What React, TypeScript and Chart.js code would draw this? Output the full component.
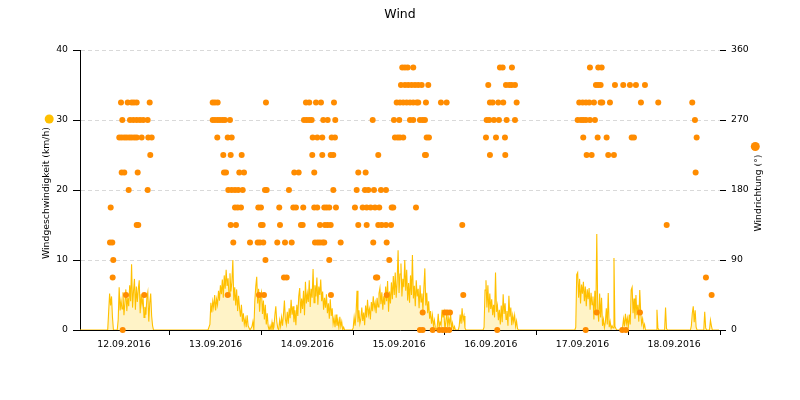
import React, { useEffect, useRef } from "react";
import { Chart, registerables } from "chart.js";

Chart.register(...registerables);

// ---------- text ----------
const chartTitle = "Wind";
const speedAxisTitle = "Windgeschwindigkeit (km/h)";
const directionAxisTitle = "Windrichtung (°)";
const dayLabels = ["12.09.2016", "13.09.2016", "14.09.2016", "15.09.2016", "16.09.2016", "17.09.2016", "18.09.2016"];

// ---------- wind speed (km/h), one value every 15 minutes, one array per day ----------
const speed12 = [
  0, 0, 0, 0, 0, 0, 0, 0, 0, 0, 0, 0,
  0, 0, 0, 0, 0, 0, 0, 0, 0, 0, 0, 0,
  0, 0, 0, 0, 0, 0, 0, 0, 2.6, 5.2, 3.5, 4.8,
  1.8, 0, 0, 0, 0, 0, 1.5, 6.1, 2.8, 4.2, 3.0, 5.4,
  2.1, 3.9, 5.8, 2.7, 4.6, 3.4, 6.4, 4.1, 9.4, 3.2, 5.5, 7.3,
  2.9, 6.2, 4.0, 5.8, 7.1, 2.4, 5.1, 3.6, 4.7, 1.8, 3.3, 2.2,
  4.6, 5.4, 1.2, 3.8, 5.2, 2.0, 0.6, 0, 0, 0, 0, 0,
  0, 0, 0, 0, 0, 0, 0, 0, 0, 0, 0, 0,
];
const speed13 = [
  0, 0, 0, 0, 0, 0, 0, 0, 0, 0, 0, 0,
  0, 0, 0, 0, 0, 0, 0, 0, 0, 0, 0, 0,
  0, 0, 0, 0, 0, 0, 0, 0, 0, 0, 0, 0,
  0, 0, 0, 0, 0, 0, 0.8, 3.9, 2.5, 4.1, 3.2, 5.0,
  2.8, 4.4, 3.6, 5.6, 4.2, 6.4, 5.1, 7.2, 4.6, 7.8, 5.9, 8.6,
  6.3, 7.4, 4.8, 8.1, 5.5, 6.8, 10.0, 4.2, 6.1, 3.5, 5.8, 2.7,
  4.9, 3.1, 1.9, 3.6, 1.2, 2.4, 0.8, 1.6, 0.4, 2.1, 0.6, 0.3,
  0, 0, 0.5, 1.2, 0, 4.1, 6.2, 7.6, 3.8, 5.9, 2.6, 4.8,
];
const speed14 = [
  5.4, 2.3, 4.2, 1.5, 3.6, 0.8, 2.4, 0.5, 0, 0.6, 0, 1.1,
  0, 0.4, 2.1, 3.4, 1.2, 0.3, 0, 1.4, 0.5, 1.8, 0.6, 2.2,
  4.2, 1.5, 0.8, 2.6, 0.9, 3.1, 1.7, 4.3, 2.2, 3.4, 1.1, 2.8,
  0.7, 3.6, 2.0, 4.8, 6.0, 2.4, 4.5, 3.0, 5.6, 2.1, 6.9, 3.8,
  5.2, 4.0, 7.1, 3.3, 5.9, 4.6, 8.7, 3.9, 6.4, 4.8, 7.5, 3.6,
  6.2, 5.0, 7.2, 4.1, 5.5, 2.9, 4.6, 3.2, 5.1, 2.4, 3.8, 1.6,
  4.4, 2.0, 3.1, 0.9, 1.7, 0.4, 2.2, 0.6, 1.4, 0.3, 1.9, 0.5,
  1.2, 0, 0.4, 0, 0, 0, 0, 0, 0, 0, 0, 0,
];
const speed15 = [
  0.3, 1.8, 0.6, 2.4, 5.6, 1.1, 2.8, 0.9, 1.6, 3.2, 1.3, 2.5,
  0.7, 3.5, 1.8, 4.3, 2.2, 3.0, 1.5, 4.0, 2.7, 4.8, 3.1, 3.9,
  2.4, 4.6, 3.3, 5.2, 6.0, 3.7, 5.4, 2.9, 4.8, 3.6, 6.2, 4.1,
  7.0, 2.6, 5.5, 3.8, 6.8, 4.4, 7.7, 5.0, 8.2, 4.6, 6.9, 11.4,
  5.3, 8.0, 9.5, 4.8, 7.3, 6.1, 10.0, 5.6, 8.6, 4.2, 6.7, 3.9,
  7.8, 5.0, 10.7, 4.5, 6.3, 3.4, 7.1, 4.8, 5.9, 3.1, 6.4, 4.0,
  5.2, 2.8, 6.0, 8.8, 3.5, 5.3, 2.4, 4.1, 1.6, 2.7, 0.9, 2.1,
  0.6, 1.4, 0.3, 0, 0.5, 2.3, 0.4, 1.1, 0.7, 2.9, 1.8, 2.5,
];
const speed16 = [
  0, 1.2, 2.6, 0.4, 1.7, 0.8, 2.2, 0.3, 1.0, 0, 0.5, 0,
  0, 0, 0, 0.6, 2.2, 0.9, 3.1, 1.4, 2.0, 0.3, 0, 0,
  0, 0, 0, 0, 0, 0, 0, 0, 0, 0, 0, 0,
  0, 0, 0, 0, 0, 0.4, 5.7, 7.1, 3.2, 6.4, 2.5, 5.2,
  3.0, 4.4, 2.1, 3.6, 1.8, 8.2, 2.6, 3.5, 1.4, 2.9, 0.8, 3.5,
  1.1, 5.1, 2.3, 3.8, 1.5, 2.7, 0.6, 4.9, 1.9, 3.2, 0.7, 2.1,
  1.2, 2.1, 0.5, 1.3, 0.2, 0, 0, 0, 0, 0, 0, 0,
  0, 0, 0, 0, 0, 0, 0, 0, 0, 0, 0, 0,
];
const speed17 = [
  0, 0, 0, 0, 0, 0, 0, 0, 0, 0, 0, 0,
  0, 0, 0, 0, 0, 0, 0, 0, 0, 0, 0, 0,
  0, 0, 0, 0, 0, 0, 0, 0, 0, 0, 0, 0,
  0, 0, 0, 0, 0, 0.4, 7.9, 8.2, 4.6, 7.3, 3.8, 6.5,
  5.2, 6.9, 4.1, 6.2, 3.4, 5.8, 4.4, 6.0, 2.9, 5.3, 3.6, 4.8,
  1.5, 5.6, 2.2, 13.7, 3.0, 1.2, 5.2, 1.8, 4.6, 0.6, 1.5, 0.3,
  1.1, 3.1, 0.8, 5.3, 0.4, 1.2, 0.2, 0.6, 0.3, 10.3, 0.5, 0.2,
  0, 0, 0, 0, 0, 0, 0.4, 1.6, 0.5, 2.3, 0.9, 1.7,
];
const speed18 = [
  0.3, 2.2, 0.8, 5.7, 6.1, 2.4, 4.5, 1.6, 5.0, 2.1, 3.6, 1.2,
  5.7, 2.5, 0.9, 1.6, 0.3, 0.8, 0, 0, 0, 0, 0, 0,
  0, 0, 0, 0, 0, 0, 2.9, 0.3, 0, 0, 0, 0,
  0, 0, 0, 3.2, 0.2, 0, 0, 0, 0, 0, 0, 0,
  0, 0, 0, 0, 0, 0, 0, 0, 0, 0, 0, 0,
  0, 0, 0, 0, 0, 0, 0.6, 2.4, 3.4, 1.1, 2.8, 0.4,
  0, 0, 0, 0, 0, 0, 0, 0, 2.6, 0.3, 0, 0,
  0, 0, 1.4, 0.6, 0, 0, 0, 0, 0, 0, 0, 0,
];
const speedDays = [speed12, speed13, speed14, speed15, speed16, speed17, speed18];
const speedStepHours = 0.25;

// ---------- wind direction (°): for each direction, the hours (since 12.09.2016 00:00) it was measured ----------
const dirLevels = [0, 22.5, 45, 67.5, 90, 112.5, 135, 157.5, 180, 202.5, 225, 247.5, 270, 292.5, 315, 337.5];
const dirTimes = [
  [11.67, 89.47, 90.18, 92.8, 94.53, 95.42, 96.28, 97.14, 109.7, 132.84, 142.42, 143.39],
  [90.18, 96.02, 96.62, 97.33, 135.72, 147.05],
  [12.54, 17.32, 39.15, 47.34, 48.65, 66.18, 80.76, 100.81, 165.81],
  [9.05, 53.88, 54.59, 77.96, 78.3, 164.32],
  [9.21, 49.04, 65.74, 81.44],
  [8.35, 8.95, 40.62, 44.99, 47.0, 47.6, 48.47, 52.13, 54.15, 55.9, 62.0, 62.7, 63.31, 64.01, 64.43, 68.72, 77.25, 80.76],
  [15.34, 15.75, 39.94, 41.32, 47.86, 48.31, 52.84, 58.33, 58.78, 63.31, 64.61, 65.32, 66.11, 73.33, 75.53, 78.56, 79.45, 80.58, 81.89, 100.55, 154.04],
  [8.53, 41.06, 41.77, 42.63, 47.16, 47.86, 52.65, 56.32, 57.02, 58.93, 61.81, 62.6, 64.43, 65.06, 65.74, 67.49, 72.46, 74.48, 75.53, 76.57, 77.7, 78.82, 82.07, 82.49, 88.43],
  [13.24, 18.21, 39.31, 40.2, 41.06, 41.92, 43.08, 48.91, 49.36, 55.19, 66.79, 72.91, 75.08, 75.95, 77.44, 79.27, 80.58],
  [11.41, 12.09, 15.6, 38.18, 38.71, 42.19, 43.42, 56.58, 57.73, 61.81, 73.33, 75.26, 161.62],
  [18.89, 38.0, 39.94, 42.81, 61.29, 63.91, 66.11, 66.79, 78.56, 90.78, 91.04, 107.79, 111.8, 133.1, 134.41, 138.75, 140.24],
  [10.78, 11.41, 12.09, 12.72, 13.4, 14.03, 14.71, 15.34, 16.64, 18.37, 19.26, 36.43, 39.15, 40.2, 61.4, 62.6, 63.91, 66.37, 67.23, 82.93, 83.64, 84.24, 85.1, 91.23, 91.83, 106.75, 109.37, 111.72, 132.21, 135.98, 138.33, 144.88, 145.48, 161.89],
  [11.57, 13.58, 14.45, 15.34, 16.2, 17.06, 18.21, 35.23, 35.83, 36.53, 37.14, 37.84, 38.44, 39.75, 59.12, 59.82, 60.5, 61.13, 64.17, 65.32, 67.31, 77.1, 82.67, 84.06, 86.86, 87.72, 89.47, 90.18, 90.78, 106.93, 107.61, 108.84, 110.15, 112.16, 114.34, 130.75, 131.61, 132.21, 132.92, 133.96, 135.27, 161.44],
  [11.23, 12.98, 14.03, 14.63, 15.34, 18.74, 35.23, 35.83, 36.53, 49.17, 59.64, 60.5, 62.26, 63.57, 66.97, 83.38, 84.24, 85.1, 85.99, 86.86, 87.72, 88.61, 89.03, 91.04, 94.97, 96.46, 107.79, 108.5, 109.97, 111.27, 114.78, 131.16, 132.05, 132.92, 133.78, 135.01, 136.76, 137.18, 139.2, 147.31, 151.84, 160.74],
  [84.5, 85.55, 86.41, 87.3, 88.17, 89.03, 89.92, 91.65, 107.35, 111.98, 112.84, 113.47, 114.34, 135.53, 136.14, 136.76, 140.51, 142.68, 144.43, 146.0, 148.36],
  [84.84, 85.55, 86.26, 87.72, 110.41, 111.12, 113.55, 133.96, 136.14, 137.03],
];

// ---------- axes ----------
const xMinHours = 0.5;
const xMaxHours = 168;
const speedMax = 40;
const speedStep = 10;
const dirMax = 360;
const dirStep = 90;

const FONT = '"DejaVu Sans", Verdana, sans-serif';
const speedColor = "#FFC000";
const speedFill = "rgba(255, 200, 0, 0.22)";
const dirColor = "#FF8C00";

const decorPlugin = {
  id: "decor",
  afterDraw(chart: any) {
    const { ctx, chartArea } = chart;
    const midY = (chartArea.top + chartArea.bottom) / 2 + 3;
    ctx.save();
    ctx.fillStyle = "#000";
    ctx.textAlign = "center";
    ctx.textBaseline = "middle";
    ctx.font = "12.5px " + FONT;
    ctx.fillText(chartTitle, chart.width / 2, 15);
    ctx.font = "9.3px " + FONT;
    const drawVertical = (text: string, x: number, color: string, markerDx: number) => {
      const w = ctx.measureText(text).width;
      ctx.save();
      ctx.translate(x, midY);
      ctx.rotate(-Math.PI / 2);
      ctx.fillStyle = "#000";
      ctx.fillText(text, 0, 0);
      ctx.restore();
      ctx.beginPath();
      ctx.arc(x + markerDx, midY - w / 2 - 8, 4.5, 0, Math.PI * 2);
      ctx.fillStyle = color;
      ctx.fill();
    };
    drawVertical(speedAxisTitle, 46.5, speedColor, 2.7);
    drawVertical(directionAxisTitle, 758.3, dirColor, -3);
    ctx.restore();
  },
};

export default function App() {
  const canvasRef = useRef<HTMLCanvasElement>(null);

  useEffect(() => {
    document.body.style.margin = "0";
    const canvas = canvasRef.current;
    if (!canvas) return;

    const speedData = speedDays.flatMap((day, d) =>
      day.map((v, i) => ({ x: d * 24 + i * speedStepHours, y: v }))
    );
    const dirData = dirLevels.flatMap((deg, k) => dirTimes[k].map((t) => ({ x: t, y: deg })));
    const tickHours: number[] = [];
    for (let h = 12; h <= xMaxHours; h += 12) tickHours.push(h);

    const chart = new Chart(canvas, {
      type: "line",
      data: {
        datasets: [
          {
            type: "scatter",
            label: "Windrichtung",
            data: dirData,
            yAxisID: "y1",
            backgroundColor: dirColor,
            borderColor: dirColor,
            borderWidth: 0,
            pointRadius: 3,
            pointHoverRadius: 3,
            clip: false,
            order: 0,
          } as any,
          {
            type: "line",
            label: "Windgeschwindigkeit",
            data: speedData,
            yAxisID: "y",
            borderColor: speedColor,
            backgroundColor: speedFill,
            borderWidth: 1.1,
            pointRadius: 0,
            tension: 0,
            fill: "origin",
            order: 1,
          } as any,
        ],
      },
      options: {
        responsive: false,
        animation: false,
        devicePixelRatio: 1,
        layout: { padding: { top: 50, left: 0, right: 0, bottom: 0 } },
        plugins: {
          legend: { display: false },
          title: { display: false },
          tooltip: { enabled: false },
        },
        scales: {
          x: {
            type: "linear",
            min: xMinHours,
            max: xMaxHours,
            afterBuildTicks: (scale: any) => {
              scale.ticks = tickHours.map((v) => ({ value: v }));
            },
            afterFit: (scale: any) => {
              scale.height = 70;
            },
            ticks: {
              autoSkip: false,
              maxRotation: 0,
              padding: 4,
              color: "#000",
              font: { family: FONT, size: 9.3 },
              callback: (v: any) => (Number(v) % 24 === 12 ? dayLabels[(Number(v) - 12) / 24] : ""),
            },
            grid: {
              drawOnChartArea: false,
              drawTicks: true,
              tickLength: 5,
              tickColor: (ctx: any) =>
                ctx.tick && ctx.tick.value % 24 === 0 ? "#000" : "rgba(0,0,0,0)",
            },
            border: { display: true, color: "#000", width: 1 },
          },
          y: {
            type: "linear",
            position: "left",
            min: 0,
            max: speedMax,
            afterFit: (scale: any) => {
              scale.width = 80;
            },
            ticks: {
              stepSize: speedStep,
              padding: 5,
              color: "#000",
              font: { family: FONT, size: 9.3 },
            },
            grid: {
              color: (ctx: any) => (ctx.tick && ctx.tick.value === 0 ? "rgba(0,0,0,0)" : "#d9d9d9"),
              tickColor: "#000",
              tickLength: 7,
              tickBorderDash: [],
            },
            border: { display: true, color: "#000", width: 1, dash: [4, 3] },
          },
          y1: {
            type: "linear",
            position: "right",
            min: 0,
            max: dirMax,
            afterFit: (scale: any) => {
              scale.width = 80;
            },
            ticks: {
              stepSize: dirStep,
              padding: 5,
              color: "#000",
              font: { family: FONT, size: 9.3 },
            },
            grid: {
              drawOnChartArea: false,
              tickColor: "#000",
              tickLength: 6,
            },
            border: { display: false },
          },
        },
      } as any,
      plugins: [decorPlugin],
    });

    return () => {
      chart.destroy();
    };
  }, []);

  return (
    <div style={{ width: 800, height: 400, position: "relative", background: "#fff" }}>
      <canvas ref={canvasRef} width={800} height={400} style={{ display: "block" }} />
    </div>
  );
}
